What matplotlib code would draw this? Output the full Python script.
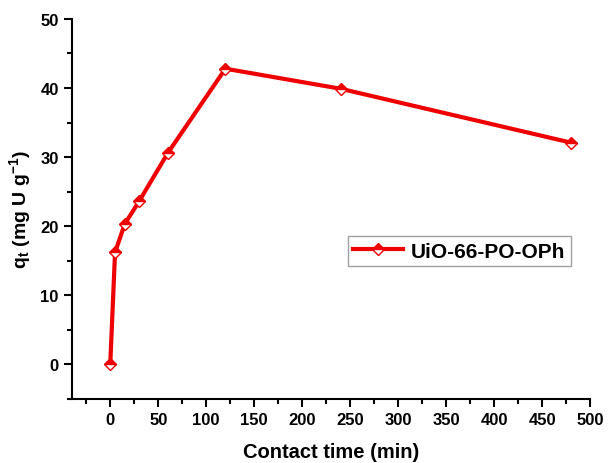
import matplotlib
matplotlib.use("Agg")
import matplotlib.pyplot as plt
from matplotlib.ticker import MultipleLocator

plt.rcParams['font.family'] = ['Liberation Sans', 'DejaVu Sans']
plt.rcParams['font.weight'] = 'bold'
plt.rcParams['mathtext.fontset'] = 'custom'
plt.rcParams['mathtext.rm'] = 'Liberation Sans:bold'
plt.rcParams['mathtext.bf'] = 'Liberation Sans:bold'
plt.rcParams['mathtext.it'] = 'Liberation Sans:bold'
plt.rcParams['mathtext.default'] = 'bf'

time_min = [0, 5, 15, 30, 60, 120, 240, 480]
qt = [0.0, 16.2, 20.3, 23.6, 30.6, 42.8, 39.9, 32.1]
series_label = "UiO-66-PO-OPh"

fig = plt.figure(figsize=(6.09, 4.64), dpi=100)
ax = fig.add_axes([0.118, 0.138, 0.851, 0.819])

ax.plot(time_min, qt, color='#ee0000', lw=3, marker='D', markersize=6.5,
        fillstyle='top', markerfacecolor='#ee0000', markerfacecoloralt='white',
        markeredgecolor='#ee0000', markeredgewidth=1, label=series_label)

ax.set_xlim(-40, 500)
ax.set_ylim(-5, 50)
ax.xaxis.set_minor_locator(MultipleLocator(25))
ax.yaxis.set_major_locator(MultipleLocator(10))
ax.yaxis.set_minor_locator(MultipleLocator(5))
ax.set_xticks(range(0, 501, 50))

for s in ['top', 'right']:
    ax.spines[s].set_visible(False)
for s in ['left', 'bottom']:
    ax.spines[s].set_linewidth(1.5)
ax.tick_params(which='major', direction='out', length=6, width=1.5, labelsize=12)
ax.tick_params(which='minor', direction='out', length=3.5, width=1.5)
for lab in ax.get_xticklabels() + ax.get_yticklabels():
    lab.set_fontweight('bold')

ax.set_xlabel('Contact time (min)', fontsize=14.5, fontweight='bold', labelpad=11)
ax.set_ylabel(r'q$_{t}$ (mg U g$^{-1}$)', fontsize=14, fontweight='bold', labelpad=5)

leg = ax.legend(loc='center left', bbox_to_anchor=(0.532, 0.389), fontsize=15,
                frameon=True, fancybox=False, edgecolor='#888888',
                handlelength=2.4, borderpad=0.25, handletextpad=0.4,
                borderaxespad=0)
leg.get_frame().set_linewidth(1.0)
for t in leg.get_texts():
    t.set_fontweight('bold')

fig.savefig('out.png', dpi=100)
